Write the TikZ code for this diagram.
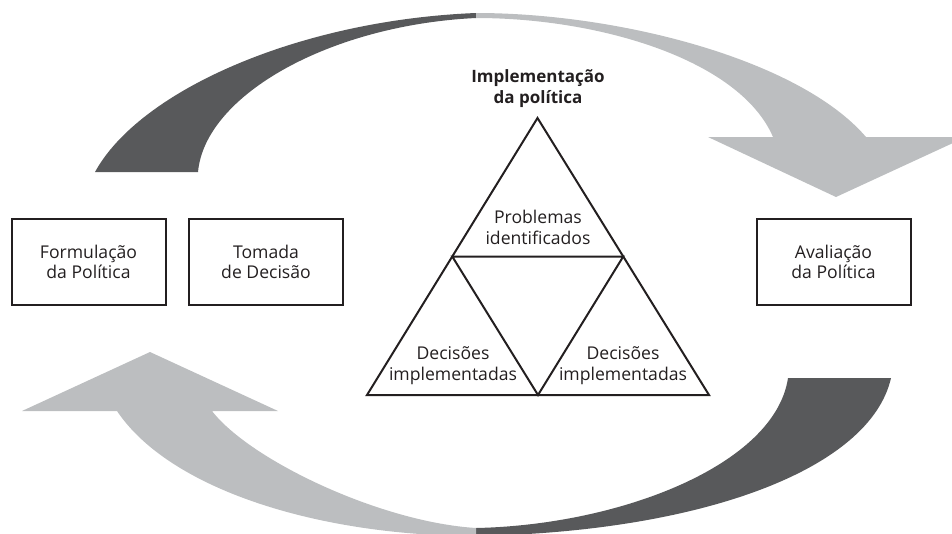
\documentclass[tikz,border=0pt]{standalone}
\usepackage{fontspec}
\usetikzlibrary{calc}
\setmainfont{Open Sans}
\definecolor{darkarrow}{HTML}{58595B}
\definecolor{lightarrow}{HTML}{BCBEC0}
\definecolor{ink}{HTML}{231F20}
\begin{document}
\begin{tikzpicture}[x=1pt,y=-1pt,
  stagebox/.style={draw=ink,line width=2pt,minimum width=154pt,minimum height=86pt,
     align=center,text=ink,font=\fontsize{17.6}{20}\selectfont,inner sep=0pt},
  tritext/.style={align=center,text=ink,font=\fontsize{17.6}{21}\selectfont,inner sep=0pt},
  triline/.style={draw=ink,line width=2pt,line join=miter}]
\useasboundingbox (0,0) rectangle (952,533);
\begin{scope}
\clip (0,0) rectangle (952,533);
% top arrow: dark tail
\fill[darkarrow] (95,172) .. controls (140,90) and (300,20) .. (476,13)
   -- (476,18) .. controls (330,25) and (205,95) .. (198,172) -- cycle;
% top arrow: light part with head
\fill[lightarrow] (476,13) .. controls (620,13) and (800,60) .. (866,137)
   -- (966,137) -- (836,197) -- (708,137) -- (773,137)
   .. controls (740,60) and (600,18) .. (476,18) -- cycle;
% bottom arrow: dark tail
\fill[darkarrow] (891,378) .. controls (870,470) and (700,532) .. (476,536)
   -- (476,528) .. controls (620,525) and (775,465) .. (788,378) -- cycle;
% bottom arrow: light part with head
\fill[lightarrow] (476,536) .. controls (320,536) and (170,490) .. (117,411)
   -- (22,411) -- (150,352) -- (278,411) -- (212,411)
   .. controls (250,460) and (380,522) .. (476,528) -- cycle;
\end{scope}
% boxes
\node[stagebox] (form) at (88.5,261.5) {Formulação\\da Política};
\node[stagebox] (toma) at (266,261.5) {Tomada\\de Decisão};
\node[stagebox] (aval) at (833.5,261.5) {Avaliação\\da Política};
% triangle
\coordinate (apex) at (537.5,118);
\coordinate (bl) at (367,395);
\coordinate (br) at (709,395);
\coordinate (ml) at ($(apex)!0.5!(bl)$);
\coordinate (mr) at ($(apex)!0.5!(br)$);
\coordinate (mb) at ($(bl)!0.5!(br)$);
\draw[triline] (apex) -- (br) -- (bl) -- cycle;
\draw[triline] (ml) -- (mr) -- (mb) -- cycle;
\node[tritext,font=\fontsize{17}{21}\selectfont\bfseries] (title) at (538,89) {Implementação\\da política};
\node[tritext] (prob) at (538,227) {Problemas\\identificados};
\node[tritext] (decl) at (453,366) {Decisões\\implementadas};
\node[tritext] (decr) at (623,366) {Decisões\\implementadas};
\end{tikzpicture}
\end{document}
